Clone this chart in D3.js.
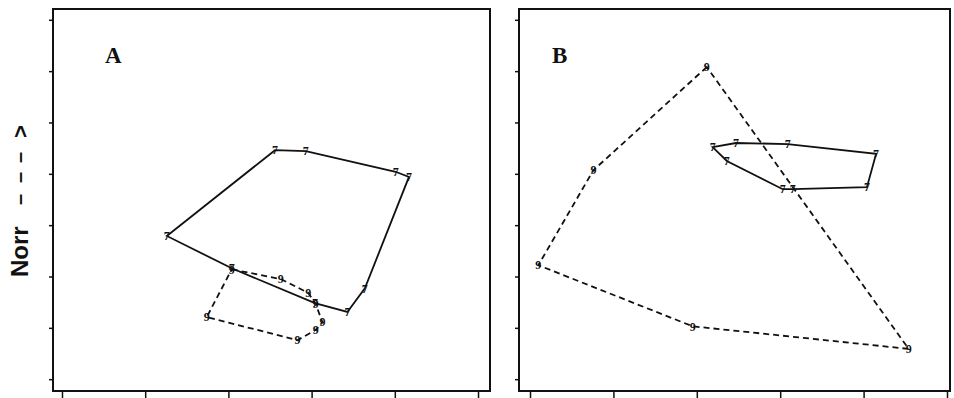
<!DOCTYPE html>
<html>
<head>
<meta charset="utf-8">
<script src="https://cdn.jsdelivr.net/npm/d3@7"></script>
<style>
  html, body { margin: 0; padding: 0; background: #fff; }
  svg { display: block; }
</style>
</head>
<body>
<div id="chart"></div>
<script>
// tick positions (no labels printed on the original)
const xTicks = [0, 1, 2, 3, 4, 5];
const yTicks = [0, 1, 2, 3, 4, 5, 6, 7];

// panel A : solid = "7" group, dashed = "9" group
const aSolidX = [1.26, 2.56, 2.93, 4.01, 4.17, 3.64, 3.43, 3.04, 2.04];
const aSolidY = [2.79, 4.46, 4.44, 4.04, 3.94, 1.77, 1.31, 1.48, 2.16];
const aDashX = [2.04, 2.63, 2.96, 3.05, 3.13, 3.05, 2.83, 1.74];
const aDashY = [2.14, 1.95, 1.68, 1.46, 1.11, 0.96, 0.76, 1.21];

// panel B
const bSolidX = [2.19, 2.47, 3.09, 4.15, 4.04, 3.15, 3.03, 2.36];
const bSolidY = [4.52, 4.60, 4.58, 4.39, 3.74, 3.70, 3.70, 4.25];
const bDashX = [2.12, 0.76, 0.10, 1.95, 4.54];
const bDashY = [6.08, 4.07, 2.22, 1.03, 0.59];

const W = 954, H = 398;
const svg = d3.select('#chart').append('svg')
    .attr('width', W)
    .attr('height', H);

const y = d3.scaleLinear().domain([-0.23, 7.21]).range([391, 9]);

function drawPanel(opts) {
    const x = d3.scaleLinear().domain(opts.xDomain).range([opts.left, opts.right]);
    const g = svg.append('g');

    // axes ticks only
    g.append('g')
        .attr('transform', `translate(${opts.left},0)`)
        .call(d3.axisLeft(y).tickValues(yTicks).tickSize(4).tickFormat(''))
        .call(s => s.select('.domain').remove())
        .selectAll('line').attr('stroke', '#111').attr('stroke-width', 1.5);

    g.append('g')
        .attr('transform', `translate(0,${y.range()[0]})`)
        .call(d3.axisBottom(x).tickValues(xTicks).tickSize(8).tickFormat(''))
        .call(s => s.select('.domain').remove())
        .selectAll('line').attr('stroke', '#111').attr('stroke-width', 1.5);

    // frame
    g.append('rect')
        .attr('x', opts.left)
        .attr('y', y.range()[1])
        .attr('width', opts.right - opts.left)
        .attr('height', y.range()[0] - y.range()[1])
        .attr('fill', 'none')
        .attr('stroke', '#111')
        .attr('stroke-width', 2);

    const line = d3.line().x(d => x(d[0])).y(d => y(d[1])).curve(d3.curveLinearClosed);

    opts.series.forEach(s => {
        const pts = s.xs.map((v, i) => [v, s.ys[i]]);
        g.append('path')
            .datum(pts)
            .attr('d', line)
            .attr('fill', 'none')
            .attr('stroke', '#111')
            .attr('stroke-width', 1.8)
            .attr('stroke-dasharray', s.dash ? '6,4' : null);

        g.selectAll(null)
            .data(pts)
            .enter().append('text')
            .attr('x', d => x(d[0]))
            .attr('y', d => y(d[1]))
            .attr('dy', '0.35em')
            .attr('text-anchor', 'middle')
            .attr('font-family', 'Liberation Serif, serif')
            .attr('font-weight', 'bold')
            .attr('font-size', 12)
            .attr('fill', '#111')
            .text(s.symbol);
    });

    g.append('text')
        .attr('x', opts.labelX)
        .attr('y', 63)
        .attr('font-family', 'Liberation Serif, serif')
        .attr('font-weight', 'bold')
        .attr('font-size', 23)
        .attr('fill', '#111')
        .text(opts.label);
}

drawPanel({
    left: 53, right: 490, xDomain: [-0.108, 5.144], label: 'A', labelX: 105,
    series: [
        { xs: aSolidX, ys: aSolidY, symbol: '7', dash: false },
        { xs: aDashX, ys: aDashY, symbol: '9', dash: true }
    ]
});

drawPanel({
    left: 519, right: 950, xDomain: [-0.132, 5.036], label: 'B', labelX: 552,
    series: [
        { xs: bSolidX, ys: bSolidY, symbol: '7', dash: false },
        { xs: bDashX, ys: bDashY, symbol: '9', dash: true }
    ]
});

// y axis title: "Norr - - - >"
const title = svg.append('text')
    .attr('transform', 'translate(28,277) rotate(-90)')
    .attr('font-family', 'Liberation Sans, Arial, sans-serif')
    .attr('font-weight', 'bold')
    .attr('font-size', 24)
    .attr('fill', '#111');
title.append('tspan').attr('x', 0).attr('y', 0).text('Norr');
[72, 94, 114].forEach(p => {
    title.append('tspan').attr('x', p).attr('y', -2.5).attr('font-size', 20).text('–');
});
title.append('tspan').attr('x', 139).attr('y', 0).attr('font-size', 22).text('>');
</script>
</body>
</html>
